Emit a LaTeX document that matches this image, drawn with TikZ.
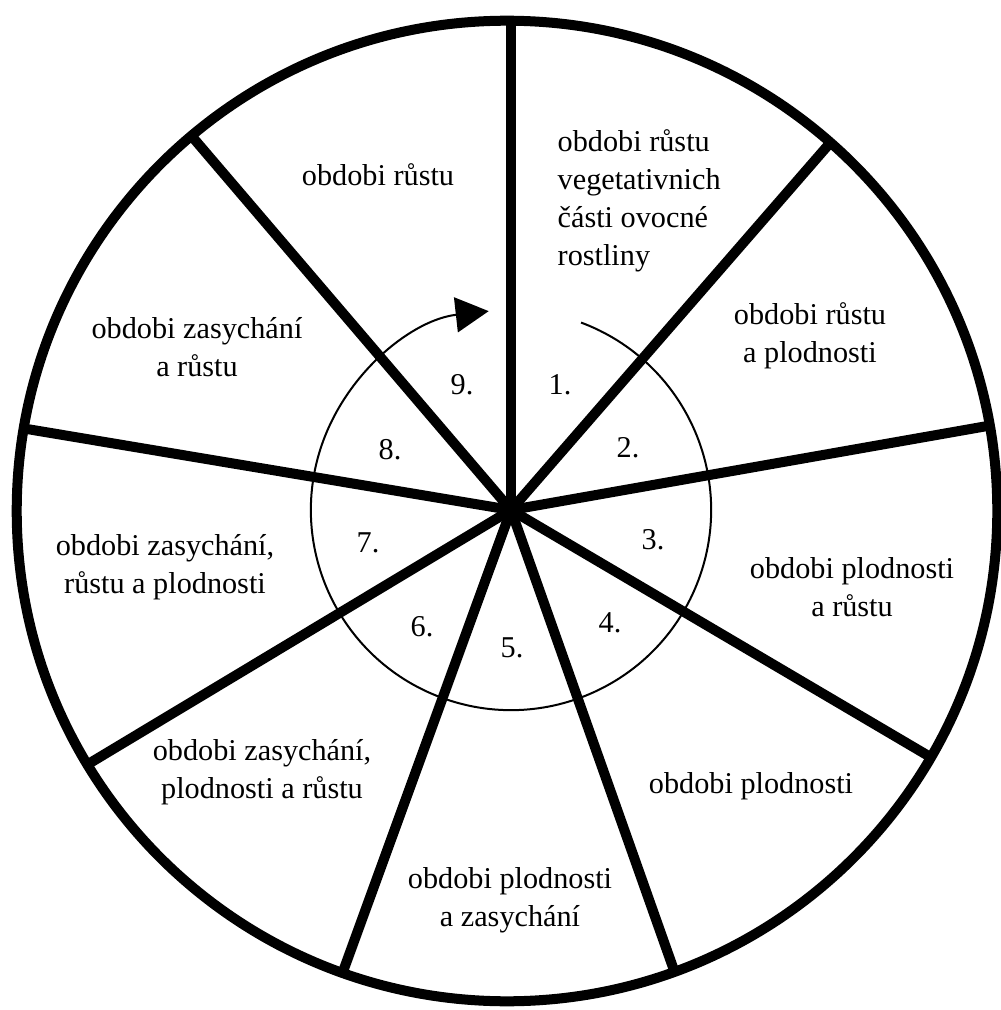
\documentclass[tikz,border=0pt]{standalone}
\usepackage{fontspec}
\setmainfont{Liberation Serif}
\usetikzlibrary{arrows.meta,positioning}

\begin{document}
\begin{tikzpicture}[x=0.01cm, y=-0.01cm,
    rim/.style={line width=0.1cm},
    spoke/.style={line width=0.1cm},
    cycle/.style={line width=0.02cm, -{Triangle[length=0.33cm, width=0.35cm]}},
    period/.style={font=\fontsize{8.6}{10.8}\selectfont, align=center, inner sep=0pt},
    num/.style={font=\fontsize{8.6}{10.8}\selectfont, inner sep=0pt}]
    \useasboundingbox (0,0) rectangle (1001,1010);
    \coordinate (mid) at (507,511);
    \coordinate (hub) at (511,510);
    \draw[rim] (mid) circle[radius=4.9cm];
    \foreach \a in {90,49,10,-30.5,-70.5,-110,-149,170.5,130.5}
        \draw[spoke] (hub) -- ++(\a:4.9cm);
    \draw[cycle] (hub) ++(69.5:2cm) arc[start angle=69.5, end angle=-263.6, radius=2cm];

    \node[period, anchor=north west, align=left] (p1) at (557,129) {obdobi růstu\\vegetativnich\\části ovocné\\rostliny};
    \node[period, anchor=north] (p2) at (810,302) {obdobi růstu\\a plodnosti};
    \node[period, anchor=north] (p3) at (852,557) {obdobi plodnosti\\a růstu};
    \node[period, anchor=base] (p4) at (751,793) {obdobi plodnosti};
    \node[period, anchor=north] (p5) at (510,867) {obdobi plodnosti\\a zasychání};
    \node[period, anchor=north] (p6) at (262,739) {obdobi zasychání,\\plodnosti a růstu};
    \node[period, anchor=north] (p7) at (165,534) {obdobi zasychání,\\růstu a plodnosti};
    \node[period, anchor=north] (p8) at (197,317) {obdobi zasychání\\a růstu};
    \node[period, anchor=base] (p9) at (378,186) {obdobi růstu};

    \node[num] (n1) at (560,385) {1.};
    \node[num] (n2) at (628,448) {2.};
    \node[num] (n3) at (653,540) {3.};
    \node[num] (n4) at (610,623) {4.};
    \node[num] (n5) at (512,648) {5.};
    \node[num] (n6) at (422,627) {6.};
    \node[num] (n7) at (368,543) {7.};
    \node[num] (n8) at (390,450) {8.};
    \node[num] (n9) at (462,385) {9.};
\end{tikzpicture}
\end{document}
